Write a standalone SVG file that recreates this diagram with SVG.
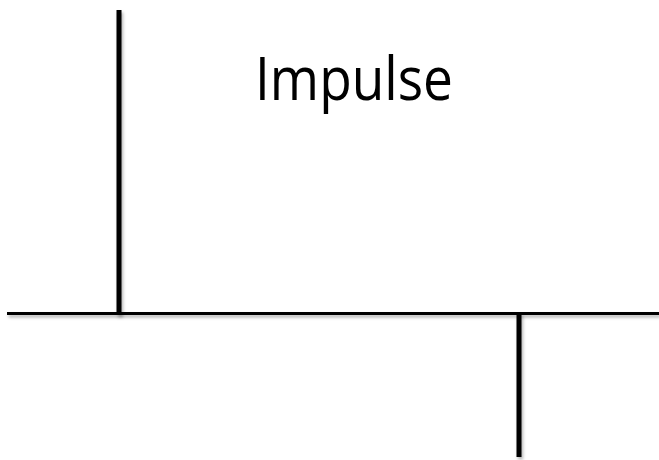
<svg xmlns="http://www.w3.org/2000/svg" width="659" height="460" viewBox="0 0 659 460">
<defs>
<style>
.ln{stroke:#000;fill:none;filter:url(#sh)}
.t{font-family:"Open Sans","Liberation Sans",sans-serif;font-size:60px;fill:#000}
</style>
<filter id="sh" filterUnits="userSpaceOnUse" x="0" y="0" width="659" height="460">
<feDropShadow dx="1.5" dy="2.5" stdDeviation="1.8" flood-color="#000" flood-opacity="0.3"/>
</filter>
</defs>
<rect width="659" height="460" fill="#fff"/>
<g id="connectors">
<line class="ln" x1="7" y1="313.5" x2="659" y2="313.5" stroke-width="3"/>
<line class="ln" x1="119" y1="10" x2="119" y2="315" stroke-width="5"/>
<line class="ln" x1="519" y1="313" x2="519" y2="457" stroke-width="5"/>
</g>
<g id="label">
<text class="t" x="354" y="100" text-anchor="middle" textLength="198" lengthAdjust="spacingAndGlyphs">Impulse</text>
</g>
</svg>
